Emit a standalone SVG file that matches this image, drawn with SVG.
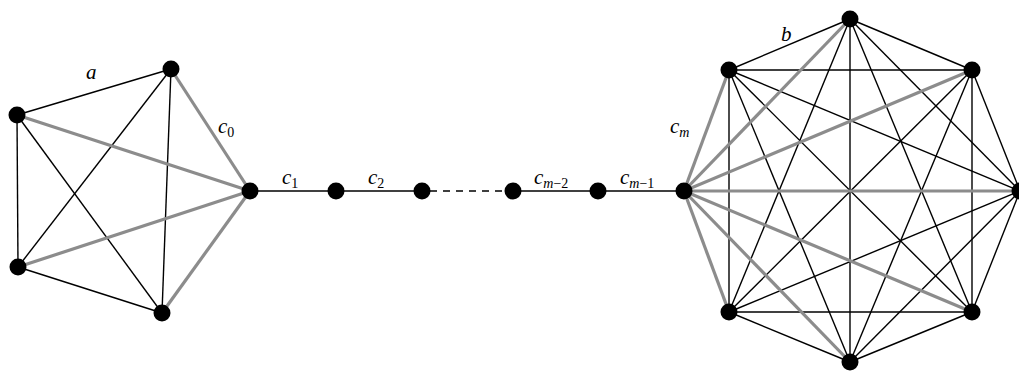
<svg xmlns="http://www.w3.org/2000/svg" width="1019" height="371" viewBox="0 0 1019 371">
<style>
.e{stroke:#000;stroke-width:1.4;fill:none}
.g{stroke:#8c8c8c;stroke-width:3.2;fill:none}
.d{stroke:#000;stroke-width:1.6;stroke-dasharray:7,6}
.v{fill:#000}
.t{font-family:"Liberation Serif",serif;font-style:italic;font-size:21px;fill:#000}
.s{font-size:14px}
.u{font-style:normal}
</style>
<rect width="1019" height="371" fill="#fff"/>
<g id="connectors">
<line class="e" x1="17" y1="115" x2="171" y2="69"/>
<line class="e" x1="17" y1="115" x2="18" y2="267"/>
<line class="e" x1="17" y1="115" x2="162" y2="313"/>
<line class="e" x1="171" y1="69" x2="18" y2="267"/>
<line class="e" x1="171" y1="69" x2="162" y2="313"/>
<line class="e" x1="18" y1="267" x2="162" y2="313"/>
<line class="g" x1="250" y1="191" x2="17" y2="115"/>
<line class="g" x1="250" y1="191" x2="171" y2="69"/>
<line class="g" x1="250" y1="191" x2="18" y2="267"/>
<line class="g" x1="250" y1="191" x2="162" y2="313"/>
<line class="e" x1="250" y1="191" x2="422" y2="191"/>
<line class="d" x1="430" y1="191" x2="505" y2="191"/>
<line class="e" x1="512" y1="191" x2="684" y2="191"/>
<line class="e" x1="850" y1="19" x2="972" y2="70"/>
<line class="e" x1="850" y1="19" x2="1020" y2="191"/>
<line class="e" x1="850" y1="19" x2="972" y2="312"/>
<line class="e" x1="850" y1="19" x2="850" y2="362"/>
<line class="e" x1="850" y1="19" x2="729" y2="312"/>
<line class="e" x1="850" y1="19" x2="729" y2="70"/>
<line class="e" x1="972" y1="70" x2="1020" y2="191"/>
<line class="e" x1="972" y1="70" x2="972" y2="312"/>
<line class="e" x1="972" y1="70" x2="850" y2="362"/>
<line class="e" x1="972" y1="70" x2="729" y2="312"/>
<line class="e" x1="972" y1="70" x2="729" y2="70"/>
<line class="e" x1="1020" y1="191" x2="972" y2="312"/>
<line class="e" x1="1020" y1="191" x2="850" y2="362"/>
<line class="e" x1="1020" y1="191" x2="729" y2="312"/>
<line class="e" x1="1020" y1="191" x2="729" y2="70"/>
<line class="e" x1="972" y1="312" x2="850" y2="362"/>
<line class="e" x1="972" y1="312" x2="729" y2="312"/>
<line class="e" x1="972" y1="312" x2="729" y2="70"/>
<line class="e" x1="850" y1="362" x2="729" y2="312"/>
<line class="e" x1="850" y1="362" x2="729" y2="70"/>
<line class="e" x1="729" y1="312" x2="729" y2="70"/>
<line class="g" x1="684" y1="191" x2="850" y2="19"/>
<line class="g" x1="684" y1="191" x2="972" y2="70"/>
<line class="g" x1="684" y1="191" x2="1020" y2="191"/>
<line class="g" x1="684" y1="191" x2="972" y2="312"/>
<line class="g" x1="684" y1="191" x2="850" y2="362"/>
<line class="g" x1="684" y1="191" x2="729" y2="312"/>
<line class="g" x1="684" y1="191" x2="729" y2="70"/>
</g>
<g id="left-nodes">
<circle id="a1" class="v" cx="17" cy="115" r="8.5"/>
<circle id="a2" class="v" cx="171" cy="69" r="8.5"/>
<circle id="a3" class="v" cx="250" cy="191" r="8.5"/>
<circle id="a4" class="v" cx="162" cy="313" r="8.5"/>
<circle id="a5" class="v" cx="18" cy="267" r="8.5"/>
</g>
<g id="path-nodes">
<circle id="p1" class="v" cx="336" cy="191" r="8.5"/>
<circle id="p2" class="v" cx="422" cy="191" r="8.5"/>
<circle id="p3" class="v" cx="513" cy="191" r="8.5"/>
<circle id="p4" class="v" cx="598" cy="191" r="8.5"/>
</g>
<g id="right-nodes">
<circle id="b1" class="v" cx="850" cy="19" r="8.5"/>
<circle id="b2" class="v" cx="972" cy="70" r="8.5"/>
<circle id="b3" class="v" cx="1020" cy="191" r="8.5"/>
<circle id="b4" class="v" cx="972" cy="312" r="8.5"/>
<circle id="b5" class="v" cx="850" cy="362" r="8.5"/>
<circle id="b6" class="v" cx="729" cy="312" r="8.5"/>
<circle id="b7" class="v" cx="684" cy="191" r="8.5"/>
<circle id="b8" class="v" cx="729" cy="70" r="8.5"/>
</g>
<g id="labels">
<text class="t" x="86" y="79">a</text>
<text class="t" x="218" y="133">c<tspan class="s u" dy="4">0</tspan></text>
<text class="t" x="282" y="184">c<tspan class="s u" dy="4">1</tspan></text>
<text class="t" x="368" y="184">c<tspan class="s u" dy="4">2</tspan></text>
<text class="t" x="534" y="184">c<tspan class="s" dy="4">m</tspan><tspan class="s u">−2</tspan></text>
<text class="t" x="620" y="184">c<tspan class="s" dy="4">m</tspan><tspan class="s u">−1</tspan></text>
<text class="t" x="670" y="133">c<tspan class="s" dy="4">m</tspan></text>
<text class="t" x="781" y="41">b</text>
</g>
</svg>
